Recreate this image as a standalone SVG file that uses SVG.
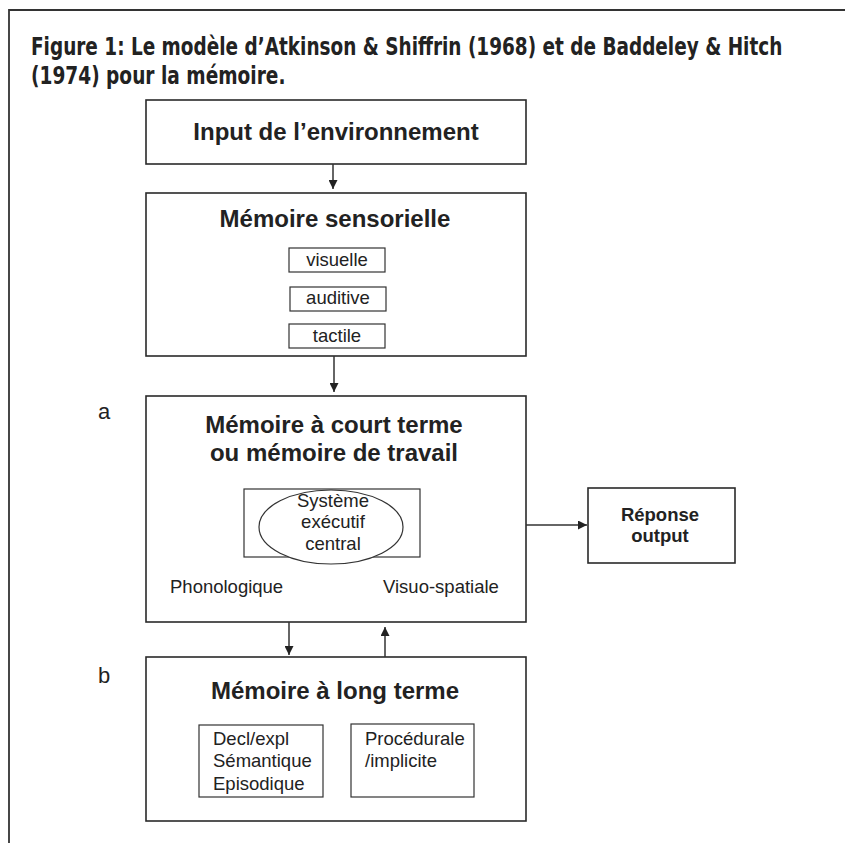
<svg xmlns="http://www.w3.org/2000/svg" width="845" height="843" viewBox="0 0 845 843">
<defs>
<style>
.box{fill:#fff;stroke:#2a2a2a;stroke-width:1.6}
.sub{fill:#fff;stroke:#333;stroke-width:1.2}
.h{font-family:"Liberation Sans",Arial,sans-serif;font-weight:bold;font-size:24px;fill:#222;text-anchor:middle}
.r{font-family:"Liberation Sans",Arial,sans-serif;font-size:18.5px;fill:#222}
.rc{font-family:"Liberation Sans",Arial,sans-serif;font-size:18.5px;fill:#222;text-anchor:middle}
.hb{font-family:"Liberation Sans",Arial,sans-serif;font-weight:bold;font-size:18.5px;fill:#222;text-anchor:middle}
.lbl{font-family:"Liberation Sans",Arial,sans-serif;font-size:22px;fill:#222}
.title{font-family:"DejaVu Sans Condensed","DejaVu Sans",sans-serif;font-stretch:condensed;font-weight:bold;font-size:24px;fill:#222}
.conn{stroke:#333;stroke-width:1.5;fill:none}
</style>
<marker id="ah" viewBox="0 0 10 10" refX="10" refY="5" markerWidth="9" markerHeight="9" markerUnits="userSpaceOnUse" orient="auto">
<path d="M0,0 L10,5 L0,10 z" fill="#222"/>
</marker>
</defs>
<rect width="845" height="843" fill="#fff"/>
<path d="M9,843 V10 H845" fill="none" stroke="#333" stroke-width="1.8"/>
<text class="title" transform="translate(31,55) scale(0.855,1)" x="0" y="0">Figure 1: Le modèle d’Atkinson &amp; Shiffrin (1968) et de Baddeley &amp; Hitch</text>
<text class="title" transform="translate(31,84) scale(0.86,1)" x="0" y="0">(1974) pour la mémoire.</text>

<g id="input">
<rect class="box" x="146" y="100" width="380" height="64"/>
<text class="h" x="336" y="140" font-size="23">Input de l’environnement</text>
</g>

<g id="sensorielle">
<rect class="box" x="146" y="193" width="380" height="163"/>
<text class="h" x="335" y="227">Mémoire sensorielle</text>
<rect class="sub" x="289" y="248" width="96" height="24"/>
<text class="rc" x="337" y="266" font-size="18">visuelle</text>
<rect class="sub" x="290" y="287" width="96" height="24"/>
<text class="rc" x="338" y="304" font-size="18">auditive</text>
<rect class="sub" x="289" y="324" width="96" height="24"/>
<text class="rc" x="337" y="342" font-size="18">tactile</text>
</g>

<g id="court-terme">
<text class="lbl" x="98" y="419">a</text>
<rect class="box" x="146" y="396" width="380" height="226"/>
<text class="h" x="334" y="433">Mémoire à court terme</text>
<text class="h" x="334" y="461">ou mémoire de travail</text>
<rect class="sub" x="244" y="489" width="176" height="68"/>
<ellipse class="sub" cx="331" cy="527" rx="72" ry="37"/>
<text class="rc" x="333" y="507">Système</text>
<text class="rc" x="333" y="528">exécutif</text>
<text class="rc" x="333" y="550">central</text>
<text class="r" x="170" y="593">Phonologique</text>
<text class="r" x="383" y="593">Visuo-spatiale</text>
</g>

<g id="reponse">
<rect class="box" x="588" y="488" width="147" height="75"/>
<text class="hb" x="660" y="521">Réponse</text>
<text class="hb" x="660" y="542">output</text>
</g>

<g id="long-terme">
<text class="lbl" x="98" y="683">b</text>
<rect class="box" x="146" y="657" width="380" height="164"/>
<text class="h" x="335" y="699">Mémoire à long terme</text>
<rect class="sub" x="199" y="725" width="124" height="72"/>
<text class="r" x="213" y="745" font-size="19">Decl/expl</text>
<text class="r" x="213" y="767" font-size="19">Sémantique</text>
<text class="r" x="213" y="790" font-size="19">Episodique</text>
<rect class="sub" x="351" y="724" width="123" height="73"/>
<text class="r" x="365" y="745" font-size="19">Procédurale</text>
<text class="r" x="365" y="767" font-size="19">/implicite</text>
</g>

<g id="connectors">
<line class="conn" x1="333" y1="164" x2="333" y2="189" marker-end="url(#ah)"/>
<line class="conn" x1="334" y1="356" x2="334" y2="392" marker-end="url(#ah)"/>
<line class="conn" x1="526" y1="525" x2="587" y2="525" marker-end="url(#ah)"/>
<line class="conn" x1="289" y1="622" x2="289" y2="655" marker-end="url(#ah)"/>
<line class="conn" x1="385" y1="657" x2="385" y2="627" marker-end="url(#ah)"/>
</g>
</svg>
